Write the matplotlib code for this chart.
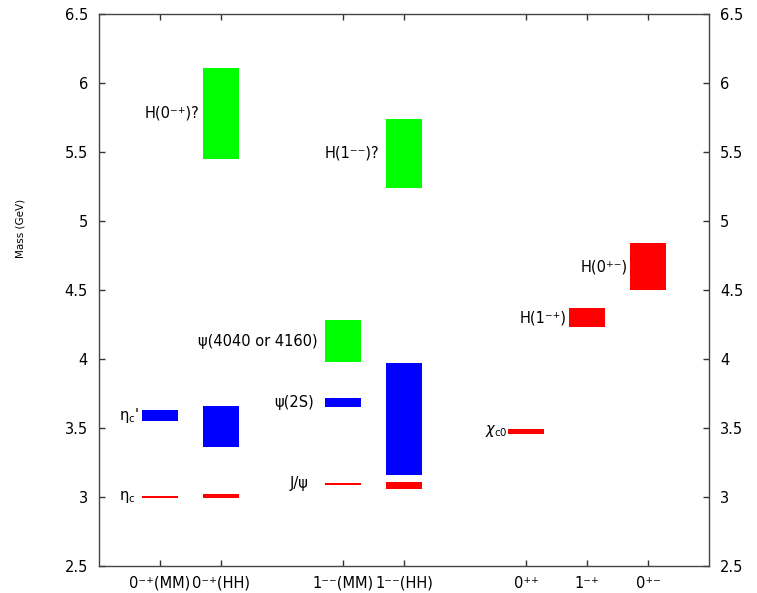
import matplotlib
matplotlib.use("Agg")
import matplotlib.pyplot as plt

plt.rcParams["font.family"] = ["DejaVu Sans"]
plt.rcParams["mathtext.fontset"] = "dejavusans"

# Category positions along the x axis and their tick labels
tick_pos = [1, 2, 4, 5, 7, 8, 9]
tick_labels = ["0⁻⁺(MM)", "0⁻⁺(HH)", "1⁻⁻(MM)", "1⁻⁻(HH)", "0⁺⁺", "1⁻⁺", "0⁺⁻"]

# Mass bands (GeV): lower and upper edge of each box, grouped by colour
red_x = [1, 2, 4, 5, 7, 8, 9]
red_lo = [2.995, 2.99, 3.09, 3.06, 3.46, 4.23, 4.50]
red_hi = [3.005, 3.02, 3.10, 3.11, 3.49, 4.37, 4.84]

blue_x = [1, 2, 4, 5]
blue_lo = [3.55, 3.36, 3.65, 3.16]
blue_hi = [3.63, 3.66, 3.72, 3.97]

green_x = [2, 4, 5]
green_lo = [5.45, 3.98, 5.24]
green_hi = [6.11, 4.28, 5.74]

# State names written beside the boxes: (text, colour group, index in group)
state_names = [
    ("η$_{\\rm c}$", "red", 0),
    ("η$_{\\rm c}$'", "blue", 0),
    ("H(0⁻⁺)?", "green", 0),
    ("J/ψ", "red", 2),
    ("ψ(2S)", "blue", 2),
    ("ψ(4040 or 4160)", "green", 1),
    ("H(1⁻⁻)?", "green", 2),
    ("$\\chi_{\\rm c0}$", "red", 4),
    ("H(1⁻⁺)", "red", 5),
    ("H(0⁺⁻)", "red", 6),
]
# right-hand end of each name, in x-axis units
name_right = [0.59, 0.66, 1.64, 3.43, 3.52, 3.59, 4.59, 6.70, 7.67, 8.67]

groups = {
    "red": (red_x, red_lo, red_hi, "#ff0000"),
    "blue": (blue_x, blue_lo, blue_hi, "#0000ff"),
    "green": (green_x, green_lo, green_hi, "#00ff00"),
}

fig = plt.figure(figsize=(7.57, 5.93), dpi=100)
ax = fig.add_axes([0.1308, 0.0455, 0.8058, 0.9309])

box_w = 0.6
for key in ("red", "blue", "green"):
    xs, lo, hi, col = groups[key]
    ax.bar(xs, [h - l for l, h in zip(lo, hi)], bottom=lo, width=box_w,
           color=col, edgecolor="none", linewidth=0)

for (txt, key, i), xr in zip(state_names, name_right):
    xs, lo, hi, col = groups[key]
    yc = 0.5 * (lo[i] + hi[i])
    ax.text(xr, yc, txt, ha="right", va="center", fontsize=10.5, color="black")

ax.set_xlim(0, 10)
ax.set_ylim(2.5, 6.5)
ax.set_xticks(tick_pos)
ax.set_xticklabels(tick_labels, fontsize=10.5)
ax.set_yticks([2.5, 3, 3.5, 4, 4.5, 5, 5.5, 6, 6.5])
ax.set_yticklabels(["2.5", "3", "3.5", "4", "4.5", "5", "5.5", "6", "6.5"], fontsize=10.5)

ax.tick_params(axis="x", direction="in", length=4, width=1, color="#333333",
               top=True, bottom=True, pad=7)
ax.tick_params(axis="y", direction="in", length=4, width=1, color="#333333",
               left=True, right=True, labelleft=True, labelright=True, pad=8)
for s in ax.spines.values():
    s.set_color("#444444")
    s.set_linewidth(1.0)

ax.set_ylabel("Mass (GeV)", fontsize=7.5)
ax.yaxis.set_label_coords(-0.121, 0.612)

fig.savefig("out.png", dpi=100)
